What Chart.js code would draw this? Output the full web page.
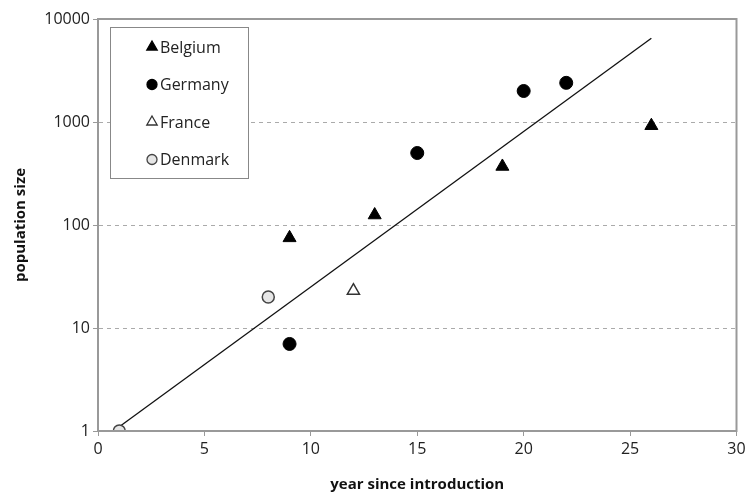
<!DOCTYPE html>
<html>
<head>
<meta charset="utf-8">
<script src="https://cdn.jsdelivr.net/npm/chart.js@4.4.1/dist/chart.umd.min.js"></script>
<style>
  html, body { margin: 0; padding: 0; background: #fff; }
  #wrap { width: 745px; height: 498px; }
</style>
</head>
<body>
<div id="wrap"><canvas id="myChart" width="745" height="498"></canvas></div>
<script>
// data
var belgiumX = [9, 13, 19, 26];
var belgiumY = [75, 125, 370, 920];
var germanyX = [9, 15, 20, 22];
var germanyY = [7, 500, 2000, 2400];
var franceX = [12];
var franceY = [23];
var denmarkX = [1, 8];
var denmarkY = [1, 20];
var trendX = [1, 26];
var trendY = [1.1, 6500];
var yTicks = [1, 10, 100, 1000, 10000];
var xTicks = [0, 5, 10, 15, 20, 25, 30];

function pts(xs, ys) {
  var out = [];
  for (var i = 0; i < xs.length; i++) { out.push({x: xs[i], y: ys[i]}); }
  return out;
}

var fontFam = "'Open Sans', 'DejaVu Sans', sans-serif";

// legend drawn in a box inside the plot, like the original
var boxLegend = {
  id: 'boxLegend',
  afterDraw: function(chart) {
    var ctx = chart.ctx;
    ctx.save();
    ctx.fillStyle = '#fff';
    ctx.fillRect(110, 27, 138, 151);
    ctx.strokeStyle = '#888';
    ctx.lineWidth = 1;
    ctx.strokeRect(110.5, 27.5, 138, 151);
    var items = chart.data.datasets.filter(function(d) { return d.inLegend; });
    ctx.font = '16px ' + fontFam;
    ctx.textBaseline = 'middle';
    for (var i = 0; i < items.length; i++) {
      var d = items[i];
      var y = 47 + i * 37.5;
      ctx.fillStyle = d.pointBackgroundColor;
      ctx.strokeStyle = d.pointBorderColor;
      ctx.lineWidth = 1.3;
      Chart.helpers.drawPoint(ctx, {pointStyle: d.pointStyle, radius: d.legendRadius, rotation: 0, borderWidth: 1.3}, 152, y);
      ctx.fillStyle = '#222';
      ctx.fillText(d.label, 160, y + 1);
    }
    ctx.restore();
  }
};

// grey frame round the plot area
var frame = {
  id: 'frame',
  afterDraw: function(chart) {
    var a = chart.chartArea;
    var ctx = chart.ctx;
    ctx.save();
    ctx.strokeStyle = '#999';
    ctx.lineWidth = 2;
    ctx.strokeRect(a.left, a.top, a.right - a.left, a.bottom - a.top);
    ctx.restore();
  }
};

var config = {
  type: 'scatter',
  data: {
    datasets: [
      {
        label: 'trend',
        type: 'line',
        data: pts(trendX, trendY),
        borderColor: '#111',
        borderWidth: 1.3,
        pointRadius: 0,
        fill: false,
        order: 5
      },
      {
        label: 'Belgium', inLegend: true, legendRadius: 6,
        data: pts(belgiumX, belgiumY),
        pointStyle: 'triangle', pointRadius: 7.5,
        pointBackgroundColor: '#000', pointBorderColor: '#000', pointBorderWidth: 1
      },
      {
        label: 'Germany', inLegend: true, legendRadius: 5,
        data: pts(germanyX, germanyY),
        pointStyle: 'circle', pointRadius: 6.5,
        pointBackgroundColor: '#000', pointBorderColor: '#000', pointBorderWidth: 1
      },
      {
        label: 'France', inLegend: true, legendRadius: 6,
        data: pts(franceX, franceY),
        pointStyle: 'triangle', pointRadius: 7,
        pointBackgroundColor: '#fff', pointBorderColor: '#333', pointBorderWidth: 1.5
      },
      {
        label: 'Denmark', inLegend: true, legendRadius: 5,
        data: pts(denmarkX, denmarkY),
        pointStyle: 'circle', pointRadius: 6,
        pointBackgroundColor: '#e6e6e6', pointBorderColor: '#444', pointBorderWidth: 1.5,
        clip: 0
      }
    ]
  },
  options: {
    responsive: false,
    animation: false,
    layout: { padding: { top: 19, right: 3, left: 0, bottom: 0 } },
    plugins: {
      legend: { display: false },
      tooltip: { enabled: false }
    },
    scales: {
      x: {
        type: 'linear',
        min: 0, max: 30,
        afterBuildTicks: function(s) { s.ticks = xTicks.map(function(v) { return {value: v}; }); },
        afterFit: function(s) { s.height = 67; s.paddingRight = 3; s.paddingLeft = 0; },
        grid: { drawOnChartArea: false, drawTicks: true, tickLength: 5, tickColor: '#999' },
        border: { color: '#999', width: 2 },
        ticks: { color: '#222', font: { size: 16, family: fontFam }, padding: 4 },
        title: { display: true, text: 'year since introduction', color: '#111',
                 font: { size: 15, weight: 'bold', family: fontFam }, padding: { top: 6 } }
      },
      y: {
        type: 'logarithmic',
        min: 1, max: 10000,
        afterBuildTicks: function(s) { s.ticks = yTicks.map(function(v) { return {value: v}; }); },
        afterFit: function(s) { s.width = 98; },
        grid: {
          color: function(c) { return (c.tick && (c.tick.value === 1 || c.tick.value === 10000)) ? 'rgba(0,0,0,0)' : '#aaa'; },
          tickColor: '#999', tickBorderDash: [], tickLength: 5
        },
        border: { color: '#999', width: 2, dash: [4, 4] },
        ticks: { color: '#222', font: { size: 16, family: fontFam }, padding: 3,
                 callback: function(v) { return String(v); } },
        title: { display: true, text: 'population size', color: '#111',
                 font: { size: 15, weight: 'bold', family: fontFam }, padding: { top: 12, bottom: 4 } }
      }
    }
  },
  plugins: [frame, boxLegend]
};

var myChart = new Chart(document.getElementById('myChart'), config);
</script>
</body>
</html>
